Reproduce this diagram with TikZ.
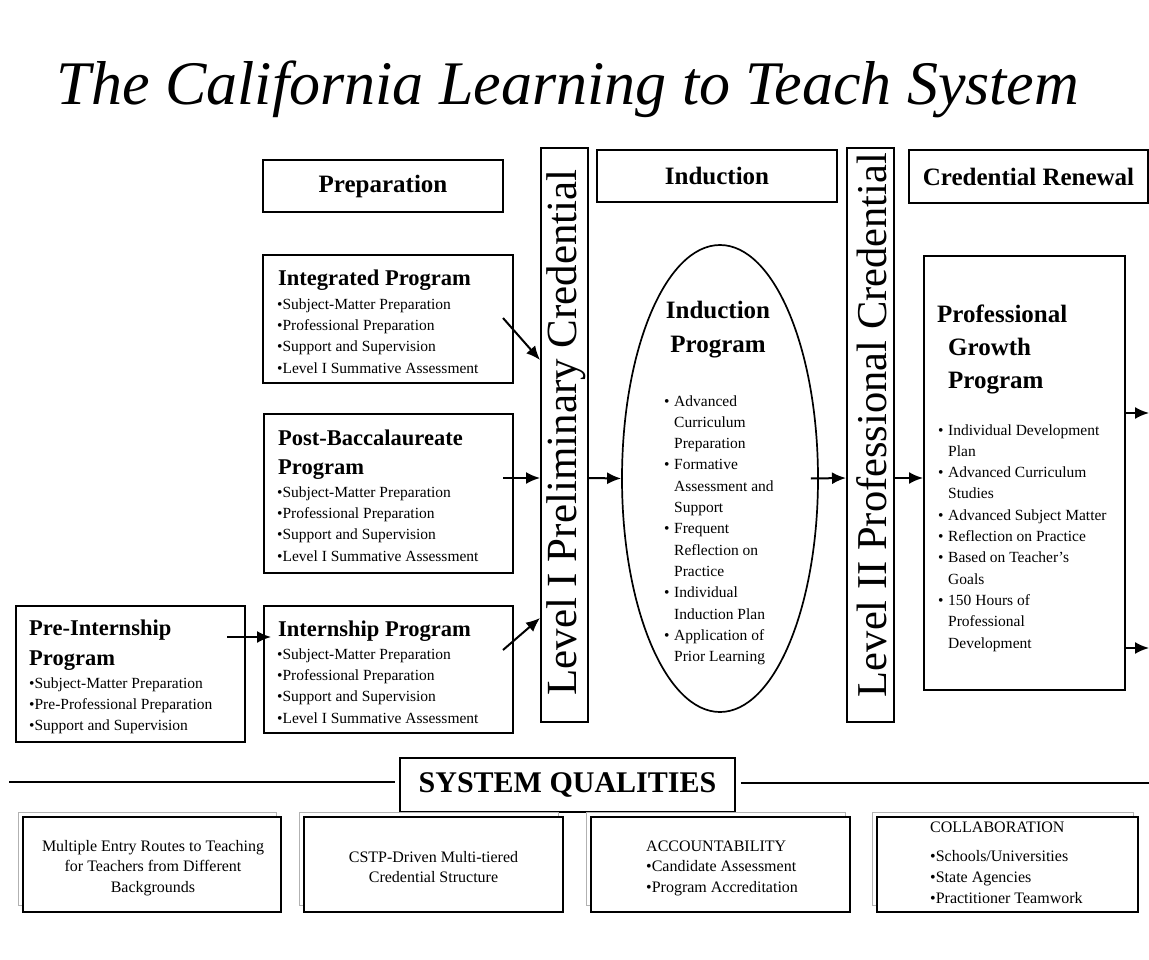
\documentclass[tikz,border=0pt]{standalone}
\usepackage{fontspec}
\setmainfont{Liberation Serif}
\usetikzlibrary{arrows.meta,calc,shapes.geometric}
\newcommand\setfs[2]{\fontsize{#1}{#2}\selectfont}
% bullet with hanging indent for the stacked lists
\newcommand\bul{\makebox[10pt][l]{•}}
\newcommand\cont{\hspace*{10pt}}
\begin{document}
% multi-line nodes are placed by the baseline of their last line
\begin{tikzpicture}[x=1pt,y=-1pt,
  box/.style={draw, line width=2pt, inner sep=0pt, fill=white},
  hdr/.style={box, minimum width=240, minimum height=52, font=\setfs{25}{30}\bfseries},
  vbox/.style={box, minimum width=47, minimum height=574},
  vtext/.style={rotate=90, inner sep=0pt},
  ptitle/.style={anchor=base west, inner sep=0pt, align=left, font=\setfs{22.5}{29.5}\bfseries},
  items/.style={anchor=base west, inner sep=0pt, align=left, font=\setfs{15.5}{21.3}},
  arr/.style={line width=2pt, -{Latex[length=14pt,width=12pt]}},
  qbox/.style={draw, line width=2.2pt, fill=white, inner sep=0pt, minimum height=95},
  qshadow/.style={draw=gray!60, line width=1pt, fill=white, inner sep=0pt, minimum height=93},
  qtext/.style={inner sep=0pt, font=\setfs{16}{20.7}},
]
\useasboundingbox (0,0) rectangle (1149,960);

% heading
\node[anchor=base, inner sep=0pt, font=\setfs{62}{62}\itshape] (title) at (568,105)
  {The California Learning to Teach System};

% stage headers
\node[hdr] (prep) at (383,186) {Preparation};
\node[hdr] (induct) at (717,176) {Induction};
\node[hdr, minimum width=239, minimum height=53] (renew) at (1028.5,176.5) {Credential Renewal};

% credential bars
\node[vbox] (lvl1) at (564.5,435) {};
\node[vtext, font=\setfs{43}{43}] (lvl1t) at (566,432.5) {Level I Preliminary Credential};
\node[vbox] (lvl2) at (870.5,435) {};
\node[vtext, font=\setfs{42.5}{42.5}] (lvl2t) at (872,425) {Level II Professional Credential};

% preparation programs
\node[box, minimum width=250, minimum height=128] (integ) at (388,319) {};
\node[ptitle] (integt) at (278,285) {Integrated Program};
\node[items] (integi) at (277,373)
  {•Subject-Matter Preparation\\•Professional Preparation\\•Support and Supervision\\•Level I Summative Assessment};

\node[box, minimum width=249, minimum height=159] (postb) at (388.5,493.5) {};
\node[ptitle, font=\setfs{22.5}{29}\bfseries] (postbt) at (278,474) {Post-Baccalaureate\\Program};
\node[items] (postbi) at (277,561)
  {•Subject-Matter Preparation\\•Professional Preparation\\•Support and Supervision\\•Level I Summative Assessment};

\node[box, minimum width=249, minimum height=127] (intern) at (388.5,669.5) {};
\node[ptitle] (internt) at (278,636) {Internship Program};
\node[items] (interni) at (277,723)
  {•Subject-Matter Preparation\\•Professional Preparation\\•Support and Supervision\\•Level I Summative Assessment};

\node[box, minimum width=229, minimum height=136] (pre) at (130.5,674) {};
\node[ptitle, font=\setfs{22.5}{30}\bfseries] (pret) at (29,665) {Pre-Internship\\Program};
\node[items] (prei) at (29,730.6)
  {•Subject-Matter Preparation\\•Pre-Professional Preparation\\•Support and Supervision};

% induction program
\node[draw, line width=1.7pt, ellipse, minimum width=196, minimum height=467, inner sep=0pt] (ind) at (720,478.5) {};
\node[anchor=base, align=center, inner sep=0pt, font=\setfs{25}{34}\bfseries] (indt) at (718,352) {Induction\\Program};
\node[items] (indi) at (664,661.6)
  {\bul Advanced\\\cont Curriculum\\\cont Preparation\\
   \bul Formative\\\cont Assessment and\\\cont Support\\
   \bul Frequent\\\cont Reflection on\\\cont Practice\\
   \bul Individual\\\cont Induction Plan\\
   \bul Application of\\\cont Prior Learning};

% professional growth program
\node[box, minimum width=201, minimum height=434] (pgp) at (1024.5,473) {};
\node[ptitle, font=\setfs{25}{33}\bfseries] (pgpt) at (937,388)
  {Professional\\\hspace*{11pt}Growth\\\hspace*{11pt}Program};
\node[items] (pgpi) at (938,648)
  {\bul Individual Development\\\cont Plan\\
   \bul Advanced Curriculum\\\cont Studies\\
   \bul Advanced Subject Matter\\
   \bul Reflection on Practice\\
   \bul Based on Teacher’s\\\cont Goals\\
   \bul 150 Hours of\\\cont Professional\\\cont Development};

% flow arrows
\draw[arr] ($(integ.east)+(-11,-1)$) -- ($(lvl1.west)+(0,-75)$);
\draw[arr] ($(postb.east)+(-11,-15.5)$) -- ($(lvl1.west)+(0,43)$);
\draw[arr] ($(intern.east)+(-11,-19.5)$) -- ($(lvl1.west)+(0,183)$);
\draw[arr] ($(pre.east)+(-19,-37)$) -- ($(intern.west)+(8,-32.5)$);
\draw[arr] ($(lvl1.east)+(0,43)$) -- (ind.west);
\draw[arr] ($(ind.east)+(-8,0)$) -- ($(lvl2.west)+(0,43)$);
\draw[arr] ($(lvl2.east)+(0,43)$) -- ($(pgp.west)+(0,5)$);
\coordinate (out1) at (1149,413);
\coordinate (out2) at (1149,648);
\draw[arr] ($(pgp.east)+(0,-60)$) -- (out1);
\draw[arr] ($(pgp.east)+(0,175)$) -- (out2);

% system qualities banner
\node[box, line width=1.6pt, minimum width=335, minimum height=54, font=\setfs{30}{30}\bfseries] (sq) at (567.5,785) {SYSTEM QUALITIES};
\coordinate (ql) at (9,782);
\coordinate (qr) at (1149,783);
\draw[line width=1.6pt] (ql) -- ($(sq.west)+(-4,-3)$);
\draw[line width=1.6pt] ($(sq.east)+(5,-2)$) -- (qr);

% quality boxes
\node[qshadow, minimum width=258] (q1s) at (147,858.5) {};
\node[qbox, minimum width=258] (q1) at (152,864.5) {};
\node[qtext, anchor=base, align=center] (q1t) at (153,892.4)
  {Multiple Entry Routes to Teaching\\for Teachers from Different\\Backgrounds};

\node[qshadow, minimum width=259] (q2s) at (428.5,858.5) {};
\node[qbox, minimum width=259] (q2) at (433.5,864.5) {};
\node[qtext, anchor=base, align=center] (q2t) at (433.5,882.7)
  {CSTP-Driven Multi-tiered\\Credential Structure};

\node[qshadow, minimum width=259] (q3s) at (715.5,858.5) {};
\node[qbox, minimum width=259] (q3) at (720.5,864.5) {};
\node[qtext, anchor=base west, align=left] (q3t) at (646,892.4)
  {ACCOUNTABILITY\\•Candidate Assessment\\•Program Accreditation};

\node[qshadow, minimum width=261] (q4s) at (1002.5,858.5) {};
\node[qbox, minimum width=261] (q4) at (1007.5,864.5) {};
\node[qtext, anchor=base west, align=left] (q4t) at (930,903.1)
  {COLLABORATION\\[9pt]•Schools/Universities\\•State Agencies\\•Practitioner Teamwork};
\end{tikzpicture}
\end{document}
